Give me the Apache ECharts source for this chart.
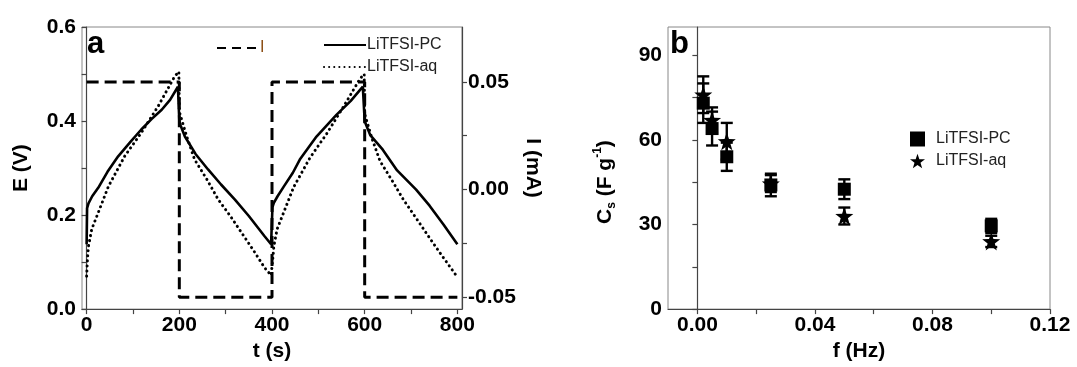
<!DOCTYPE html>
<html>
<head>
<meta charset="utf-8">
<script src="https://cdn.jsdelivr.net/npm/echarts@6/dist/echarts.min.js"></script>
<style>
  html, body { margin: 0; padding: 0; background: #fff; }
  #chart { width: 1077px; height: 367px; }
</style>
</head>
<body>
<div id="chart"></div>
<script>
// panel a: galvanostatic charge/discharge
const tPC = [0, 1, 4, 12, 25, 45, 68, 95, 118, 140, 162, 180, 197, 200, 200, 203, 212, 235, 262, 290, 320, 350, 384, 398,
             400, 401, 404, 412, 425, 445, 460, 496, 539, 570, 596, 600, 600, 603, 612, 639, 670, 711, 740, 770, 800];
const ePC = [0.138, 0.215, 0.225, 0.24, 0.258, 0.292, 0.325, 0.356, 0.382, 0.404, 0.424, 0.445, 0.473, 0.477, 0.40, 0.39, 0.367, 0.33, 0.297, 0.265, 0.233, 0.198, 0.155, 0.138,
             0.138, 0.217, 0.226, 0.24, 0.26, 0.29, 0.318, 0.367, 0.413, 0.443, 0.473, 0.477, 0.40, 0.392, 0.37, 0.339, 0.295, 0.254, 0.22, 0.18, 0.138];
const tAq = [0, 2, 4, 11, 25, 47, 82, 118, 154, 190, 199, 200, 203, 215, 233, 260, 284, 310, 334, 360, 384, 398,
             400, 402, 404, 411, 425, 447, 482, 518, 554, 590, 599, 600, 603, 615, 633, 660, 684, 710, 734, 760, 784, 800];
const eAq = [0.07, 0.11, 0.134, 0.17, 0.205, 0.261, 0.325, 0.375, 0.431, 0.495, 0.505, 0.42, 0.41, 0.37, 0.318, 0.275, 0.233, 0.198, 0.163, 0.125, 0.088, 0.072,
             0.072, 0.11, 0.134, 0.17, 0.205, 0.26, 0.322, 0.373, 0.43, 0.49, 0.50, 0.415, 0.405, 0.365, 0.315, 0.272, 0.232, 0.195, 0.16, 0.123, 0.09, 0.068];
const tI = [0, 200, 200, 400, 400, 600, 600, 800];
const iVal = [0.05, 0.05, -0.05, -0.05, 0.05, 0.05, -0.05, -0.05];

// panel b: specific capacitance vs frequency
const freq = [0.002, 0.005, 0.01, 0.025, 0.05, 0.1];
const csPC = [73, 64, 54, 44, 42.5, 29.5];
const errPC = [7, 6, 5, 4, 3.5, 2.5];
const csAq = [76, 67, 59.5, 44.5, 33, 24];
const errAq = [6.5, 4.5, 6.5, 3, 3, 2];

// tick labels
const tLabels = [0, 200, 400, 600, 800];
const tTicks = [0, 100, 200, 300, 400, 500, 600, 700, 800];
const eLabels = [0, 0.2, 0.4, 0.6];
const eTicks = [0, 0.1, 0.2, 0.3, 0.4, 0.5, 0.6];
const iLabels = [-0.05, 0, 0.05];
const iTicks = [-0.05, -0.025, 0, 0.025, 0.05];
const fLabels = [0, 0.04, 0.08, 0.12];
const fTicks = [0, 0.02, 0.04, 0.06, 0.08, 0.1, 0.12];
const cLabels = [0, 30, 60, 90];
const cTicks = [0, 15, 30, 45, 60, 75, 90];

const FONT = '"Liberation Sans", Arial, sans-serif';
const zip = (a, b) => a.map((v, i) => [v, b[i]]);
const star = 'path://M0,-10 L2.35,-3.24 9.51,-3.09 3.8,1.24 5.88,8.09 0,4 -5.88,8.09 -3.8,1.24 -9.51,-3.09 -2.35,-3.24 Z';

const lbl = (fmt) => ({ color: '#000', fontFamily: FONT, fontWeight: 'bold', fontSize: 21, margin: 6, formatter: fmt });
const axLine = { show: true, lineStyle: { color: '#444', width: 1.2 } };
const tick = (vals) => ({ show: true, inside: false, length: 5, lineStyle: { color: '#444', width: 1.2 }, customValues: vals });
const nameStyle = { color: '#000', fontFamily: FONT, fontWeight: 'bold', fontSize: 21 };

// error bars drawn through the axis scales
function errRender(params, api) {
  const x = api.value(0);
  const top = api.coord([x, api.value(2)]);
  const bot = api.coord([x, api.value(1)]);
  const w = 6;
  const st = { stroke: '#000', lineWidth: 2.4 };
  return {
    type: 'group',
    children: [
      { type: 'line', shape: { x1: top[0], y1: top[1], x2: bot[0], y2: bot[1] }, style: st },
      { type: 'line', shape: { x1: top[0] - w, y1: top[1], x2: top[0] + w, y2: top[1] }, style: st },
      { type: 'line', shape: { x1: bot[0] - w, y1: bot[1], x2: bot[0] + w, y2: bot[1] }, style: st }
    ]
  };
}

const chart = echarts.init(document.getElementById('chart'));

chart.setOption({
  animation: false,
  grid: [
    { left: 82, top: 27, width: 380, height: 283, show: true, borderColor: '#888', borderWidth: 1 },
    { left: 668, top: 27, width: 382, height: 283, show: true, borderColor: '#888', borderWidth: 1 }
  ],
  legend: [
    {
      data: ['I'], left: 211, top: 35, itemWidth: 40, itemHeight: 12, itemGap: 2,
      itemStyle: { opacity: 0 },
      lineStyle: { type: [9, 6] },
      textStyle: { color: '#8a4b10', fontFamily: FONT, fontSize: 16, padding: [0, 0, 0, -2] }
    },
    {
      data: ['LiTFSI-PC', 'LiTFSI-aq'], orient: 'vertical', left: 318, top: 32, itemWidth: 42, itemHeight: 12, itemGap: 6,
      itemStyle: { opacity: 0 },
      textStyle: { color: '#222', fontFamily: FONT, fontSize: 16, padding: [0, 0, 0, -4] }
    },
    {
      data: ['LiTFSI-PC (b)', 'LiTFSI-aq (b)'], orient: 'vertical', left: 905, top: 126, itemWidth: 15, itemHeight: 15, itemGap: 6,
      formatter: (n) => n.replace(' (b)', ''),
      textStyle: { color: '#222', fontFamily: FONT, fontSize: 16, padding: [0, 0, 0, 6] }
    }
  ],
  graphic: [
    { type: 'text', left: 87, top: 29, style: { text: 'a', fill: '#000', font: 'bold 31px ' + FONT } },
    { type: 'text', left: 670, top: 29, style: { text: 'b', fill: '#000', font: 'bold 31px ' + FONT } }
  ],
  xAxis: [
    {
      type: 'value', gridIndex: 0, min: -10, max: 810,
      name: 't (s)', nameLocation: 'middle', nameGap: 31, nameTextStyle: nameStyle,
      axisLine: axLine, axisTick: tick(tTicks), splitLine: { show: false },
      axisLabel: Object.assign(lbl((v) => String(v)), { customValues: tLabels })
    },
    {
      type: 'value', gridIndex: 1, min: -0.01, max: 0.12,
      name: 'f (Hz)', nameLocation: 'middle', nameGap: 31, nameTextStyle: nameStyle,
      axisLine: axLine, axisTick: tick(fTicks), splitLine: { show: false },
      axisLabel: Object.assign(lbl((v) => v.toFixed(2)), { customValues: fLabels })
    }
  ],
  yAxis: [
    {
      type: 'value', gridIndex: 0, min: 0, max: 0.6,
      name: 'E (V)', nameLocation: 'middle', nameGap: 50, nameTextStyle: nameStyle,
      axisLine: axLine, axisTick: tick(eTicks), splitLine: { show: false },
      axisLabel: Object.assign(lbl((v) => v.toFixed(1)), { customValues: eLabels })
    },
    {
      type: 'value', gridIndex: 0, position: 'right', min: -0.0555, max: 0.0755,
      name: 'I (mA)', nameLocation: 'middle', nameGap: 60, nameRotate: -90, nameTextStyle: nameStyle,
      axisLine: axLine, axisTick: tick(iTicks), splitLine: { show: false },
      axisLabel: Object.assign(lbl((v) => v.toFixed(2)), { customValues: iLabels })
    },
    {
      type: 'value', gridIndex: 1, min: 0, max: 100,
      name: '{b|C}{s|s}{b| (F g}{p|-1}{b|)}', nameLocation: 'middle', nameGap: 50,
      nameTextStyle: {
        color: '#000', fontFamily: FONT, fontWeight: 'bold', fontSize: 21, padding: [0, 28, 0, 0],
        rich: {
          b: { color: '#000', fontFamily: FONT, fontWeight: 'bold', fontSize: 21, lineHeight: 26 },
          s: { color: '#000', fontFamily: FONT, fontWeight: 'bold', fontSize: 12, verticalAlign: 'bottom', lineHeight: 26 },
          p: { color: '#000', fontFamily: FONT, fontWeight: 'bold', fontSize: 12, verticalAlign: 'top', lineHeight: 26 }
        }
      },
      axisLine: axLine, axisTick: tick(cTicks), splitLine: { show: false },
      axisLabel: Object.assign(lbl((v) => String(v)), { customValues: cLabels })
    }
  ],
  series: [
    {
      name: 'I', type: 'line', xAxisIndex: 0, yAxisIndex: 1, data: zip(tI, iVal),
      symbol: 'none', lineStyle: { color: '#000', width: 3, type: [12, 6] }, itemStyle: { color: '#000' }
    },
    {
      name: 'LiTFSI-PC', type: 'line', xAxisIndex: 0, yAxisIndex: 0, data: zip(tPC, ePC),
      symbol: 'none', lineStyle: { color: '#000', width: 2.6 }, itemStyle: { color: '#000' }
    },
    {
      name: 'LiTFSI-aq', type: 'line', xAxisIndex: 0, yAxisIndex: 0, data: zip(tAq, eAq),
      symbol: 'none', lineStyle: { color: '#000', width: 3, type: [0.1, 5], cap: 'round' }, itemStyle: { color: '#000' }
    },
    {
      type: 'custom', xAxisIndex: 1, yAxisIndex: 2, renderItem: errRender,
      data: freq.map((f, i) => [f, csPC[i] - errPC[i], csPC[i] + errPC[i]])
    },
    {
      type: 'custom', xAxisIndex: 1, yAxisIndex: 2, renderItem: errRender,
      data: freq.map((f, i) => [f, csAq[i] - errAq[i], csAq[i] + errAq[i]])
    },
    {
      name: 'LiTFSI-PC (b)', type: 'scatter', xAxisIndex: 1, yAxisIndex: 2, data: zip(freq, csPC),
      symbol: 'rect', symbolSize: 13, itemStyle: { color: '#000', opacity: 1 }
    },
    {
      name: 'LiTFSI-aq (b)', type: 'scatter', xAxisIndex: 1, yAxisIndex: 2, data: zip(freq, csAq),
      symbol: star, symbolSize: 18, itemStyle: { color: '#000', opacity: 1 }
    }
  ]
});

window.addEventListener('resize', () => chart.resize());
</script>
</body>
</html>
